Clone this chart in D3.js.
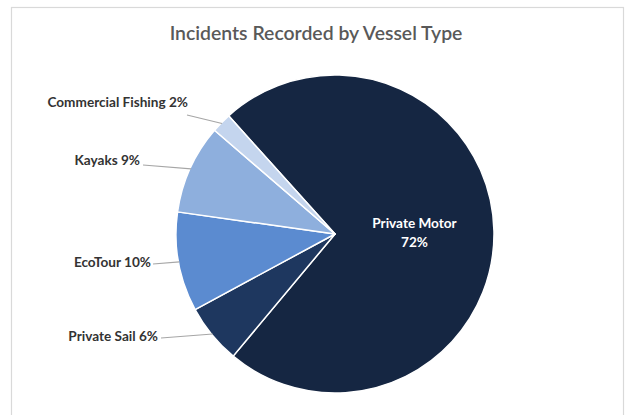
<!DOCTYPE html>
<html>
<head>
<meta charset="utf-8">
<script src="https://cdn.jsdelivr.net/npm/d3@7"></script>
<style>
  html, body { margin: 0; padding: 0; background: #ffffff; }
  svg { display: block; }
</style>
</head>
<body>
<svg id="chart" width="631" height="415"></svg>
<script>
// Incident shares by vessel type (percent), in clockwise drawing order
const categories = ["Private Motor", "Private Sail", "EcoTour", "Kayaks", "Commercial Fishing"];
const shares = [72, 6, 10, 9, 2];
const colors = ["#152642", "#1e375f", "#5b8bd0", "#8eafdd", "#c4d5ee"];

const title = "Incidents Recorded by Vessel Type";

// Layout
const W = 631, H = 415;
const cx = 335, cy = 234, R = 159;
const firstSliceDeg = -42;

// Outside label placement: text right edge (x), text middle (y), leader start
const outsideLabels = {
  "Private Sail":       { x: 158, y: 336, lx: 161, ly: 338 },
  "EcoTour":            { x: 151, y: 262, lx: 153, ly: 264 },
  "Kayaks":             { x: 140, y: 160, lx: 143, ly: 165 },
  "Commercial Fishing": { x: 188, y: 102, lx: 187, ly: 115 }
};

const svg = d3.select("#chart");

// Chart frame
svg.append("rect")
  .attr("x", 11.5).attr("y", 7.5)
  .attr("width", 612).attr("height", 420)
  .attr("fill", "#ffffff")
  .attr("stroke", "#d9d9d9")
  .attr("stroke-width", 1.2);

svg.append("text")
  .attr("x", 316).attr("y", 39.5)
  .attr("text-anchor", "middle")
  .attr("font-family", "Lato, 'Open Sans', sans-serif")
  .attr("font-size", 19.4)
  .attr("font-weight", 600)
  .attr("fill", "#595959")
  .text(title);

const data = categories.map((c, i) => ({ name: c, value: shares[i], color: colors[i] }));

const start = firstSliceDeg * Math.PI / 180;
const pie = d3.pie().sort(null).value(d => d.value)
  .startAngle(start).endAngle(start + 2 * Math.PI);
const arcs = pie(data);

const arc = d3.arc().innerRadius(0).outerRadius(R);

const g = svg.append("g").attr("transform", `translate(${cx},${cy})`);

g.selectAll("path.slice")
  .data(arcs)
  .join("path")
  .attr("class", "slice")
  .attr("d", arc)
  .attr("fill", d => d.data.color)
  .attr("stroke", "#ffffff")
  .attr("stroke-width", 1.5)
  .attr("stroke-linejoin", "round");

const mid = d => (d.startAngle + d.endAngle) / 2;
const edgePoint = (d, r) => [cx + r * Math.sin(mid(d)), cy - r * Math.cos(mid(d))];

// Leader lines and outside labels
arcs.filter(d => outsideLabels[d.data.name]).forEach(d => {
  const L = outsideLabels[d.data.name];
  const [ex, ey] = edgePoint(d, R - 1);
  svg.append("line")
    .attr("x1", L.lx).attr("y1", L.ly)
    .attr("x2", ex).attr("y2", ey)
    .attr("stroke", "#a6a6a6")
    .attr("stroke-width", 1.2);
  svg.append("text")
    .attr("x", L.x).attr("y", L.y)
    .attr("dy", "0.35em")
    .attr("text-anchor", "end")
    .attr("font-family", "Lato, 'Open Sans', sans-serif")
    .attr("font-size", 13.6)
    .attr("font-weight", "bold")
    .attr("fill", "#333333")
    .text(`${d.data.name} ${d.data.value}%`);
});

// Inside label for the largest slice
arcs.filter(d => d.data.name === "Private Motor").forEach(d => {
  const [px, py] = edgePoint(d, R * 0.5);
  const t = svg.append("text")
    .attr("x", px).attr("y", py)
    .attr("text-anchor", "middle")
    .attr("font-family", "Lato, 'Open Sans', sans-serif")
    .attr("font-size", 13.6)
    .attr("font-weight", "bold")
    .attr("fill", "#ffffff");
  t.append("tspan").attr("x", px).attr("dy", "-0.3em").text(d.data.name);
  t.append("tspan").attr("x", px).attr("dy", "1.4em").text(`${d.data.value}%`);
});
</script>
</body>
</html>
